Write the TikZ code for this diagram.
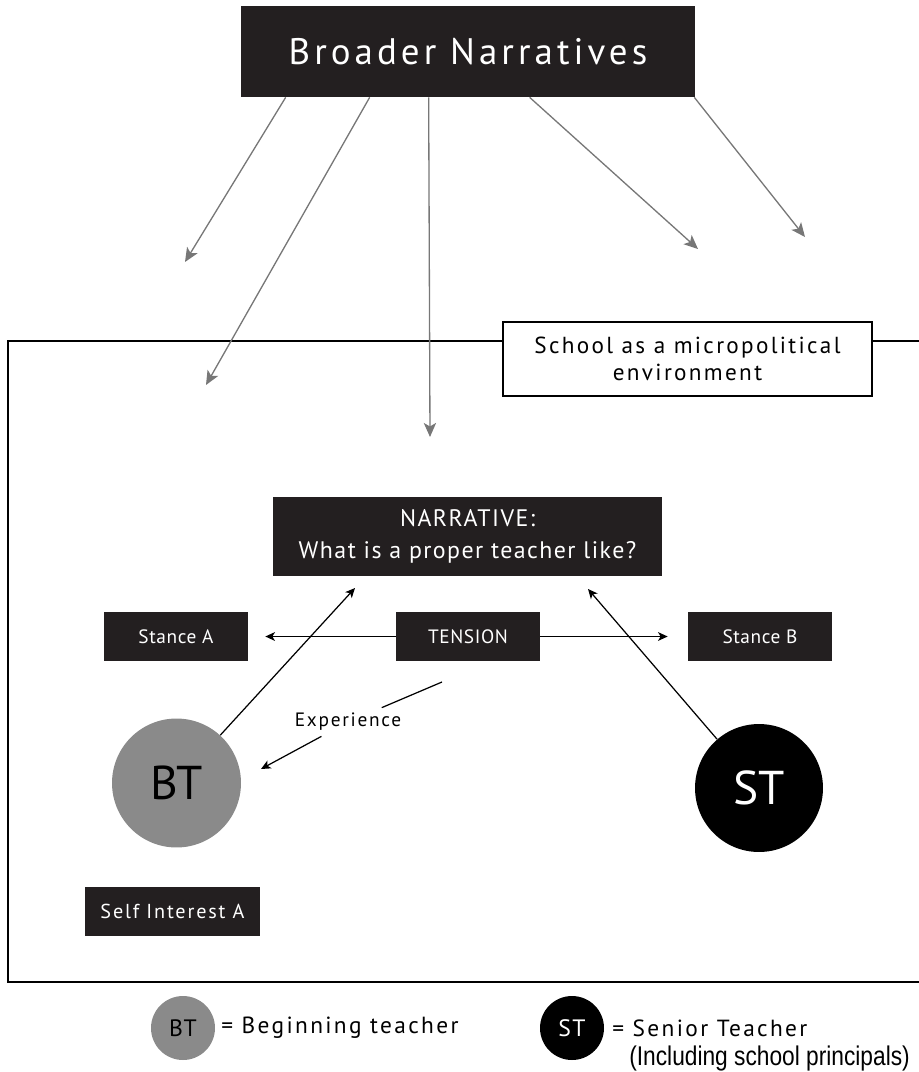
\documentclass[tikz,border=0pt]{standalone}
\usepackage{fontspec}
\setmainfont{PT Sans}
\newfontfamily\narrowfont[FakeStretch=0.84]{Liberation Sans}
\usetikzlibrary{arrows.meta}
\definecolor{boxblack}{HTML}{231F20}
\definecolor{arrowgray}{HTML}{777777}
\definecolor{btgray}{HTML}{8A8A8A}

\begin{document}
\begin{tikzpicture}[x=0.02cm, y=-0.02cm,
    darkbox/.style={fill=boxblack, text=white, inner sep=0pt, align=center},
    smallbox/.style={darkbox, minimum width=2.88cm, minimum height=0.98cm, font=\fontsize{11}{13}\selectfont\addfontfeature{LetterSpace=3}},
    broad/.style={draw=arrowgray, line width=0.75pt, -{Stealth[length=8pt, width=7pt, inset=2pt]}},
    link/.style={draw=black, line width=0.7pt, -{Stealth[length=5.5pt, width=5pt, inset=1.5pt]}},
    teacher/.style={circle, inner sep=0pt, minimum size=2.58cm, font=\fontsize{27}{27}\selectfont},
    keycircle/.style={circle, inner sep=0pt, minimum size=1.28cm, font=\fontsize{13.5}{13.5}\selectfont\addfontfeature{LetterSpace=6}},
    keytext/.style={anchor=west, inner sep=0pt, font=\fontsize{13.3}{15}\selectfont\addfontfeature{LetterSpace=10}}
]
\useasboundingbox (0,0) rectangle (919,1072);

% school frame
\draw[line width=1.1pt] (919,341) -| (8,982) -- (919,982);
\node[draw, line width=0.8pt, fill=white, minimum width=7.38cm, minimum height=1.48cm, inner sep=0pt, align=center,
      font=\fontsize{13.2}{15.5}\selectfont\addfontfeature{LetterSpace=10}] (school) at (687.5,359)
      {School as a micropolitical\\environment};

% broader narratives and its arrows
\node[darkbox, minimum width=9.08cm, minimum height=1.82cm, font=\fontsize{21}{24}\selectfont\addfontfeature{LetterSpace=11}]
      (broader) at (468,51.5) {Broader Narratives};
\coordinate (t1) at (185,262);
\coordinate (t2) at (206,385);
\coordinate (t3) at (430,437);
\coordinate (t4) at (698,249);
\coordinate (t5) at (805,237);
\draw[broad] ([xshift=0.9cm]broader.south west) -- (t1);
\draw[broad] ([xshift=2.58cm]broader.south west) -- (t2);
\draw[broad] ([xshift=3.76cm]broader.south west) -- (t3);
\draw[broad] ([xshift=5.78cm]broader.south west) -- (t4);
\draw[broad] ([xshift=-0.02cm]broader.south east) -- (t5);

% narrative and stances
\node[darkbox, minimum width=7.78cm, minimum height=1.58cm, font=\fontsize{13.6}{18}\selectfont\addfontfeature{LetterSpace=6}]
      (narrative) at (467.5,536.5) {NARRATIVE:\\What is a proper teacher like?};
\node[smallbox] (tension) at (468,636.5) {TENSION};
\node[smallbox] (stanceA) at (176,636.5) {Stance A};
\node[smallbox] (stanceB) at (760,636.5) {Stance B};
\node[smallbox, minimum width=3.5cm, font=\fontsize{11.5}{13}\selectfont\addfontfeature{LetterSpace=9}] (selfA) at (172.5,911.5) {Self Interest A};

\draw[link] (tension) -- ([xshift=0.34cm]stanceA.east);
\draw[link] (tension) -- ([xshift=-0.4cm]stanceB.west);

% teachers
\node[teacher, fill=btgray] (BT) at (176.5,783) {BT};
\node[teacher, fill=black, text=white, minimum size=2.56cm] (ST) at (759,788) {ST};
\coordinate (btTip) at (355,588);
\coordinate (stTip) at (588,589);
\draw[link] (BT) -- (btTip);
\draw[link] (ST) -- (stTip);

% experience
\node[inner sep=0pt, minimum height=0.56cm, font=\fontsize{11}{13}\selectfont\addfontfeature{LetterSpace=9}] (experience) at (348,722) {Experience};
\coordinate (expStart) at (442,682);
\coordinate (expTip) at (261,769);
\draw[line width=0.7pt] (expStart) -- (experience);
\draw[link] (experience) -- (expTip);

% legend
\node[keycircle, fill=btgray] (keyBT) at (183,1028) {BT};
\node[keycircle, fill=black, text=white] (keyST) at (572,1028) {ST};
\node[keytext] (keyBTtext) at (221,1028) {= Beginning teacher};
\node[keytext] (keySTtext) at (612,1028) {= Senior Teacher};
\node[anchor=west, inner sep=0pt, font=\narrowfont\fontsize{15.4}{16}\selectfont] (keySTnote) at (629,1058) {(Including school principals)};
\end{tikzpicture}
\end{document}
